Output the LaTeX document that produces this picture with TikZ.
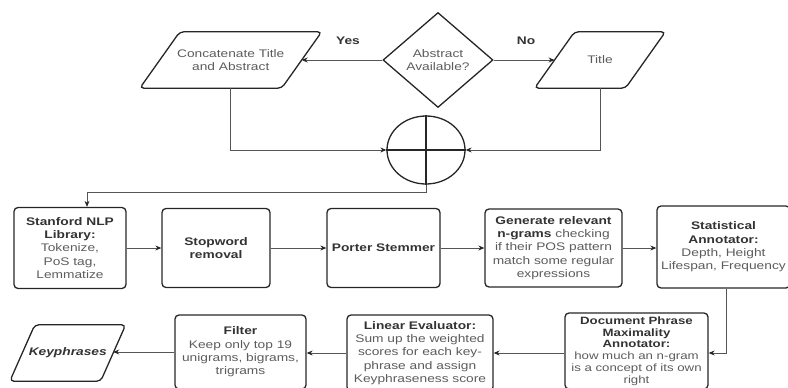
\documentclass[tikz,border=0pt]{standalone}
\usepackage{fontspec}
\setmainfont{Liberation Sans}[FakeStretch=1.25]
\usetikzlibrary{shapes.geometric,arrows.meta,calc}
\definecolor{boxc}{HTML}{262626}
\definecolor{txt}{HTML}{5C5C5C}
\definecolor{btc}{HTML}{333333}
\definecolor{linec}{HTML}{555555}
\newcommand\bt[1]{\textcolor{btc}{\textbf{#1}}}
\newcommand\drawpara[2]{\draw[boxc,line width=1.3pt,rounded corners=4pt] ([xshift=#2]#1.north west) -- ([xshift=#2]#1.north east) -- ([xshift=-#2]#1.south east) -- ([xshift=-#2]#1.south west) -- cycle;}
\begin{document}
\begin{tikzpicture}[x=1pt,y=-1pt,
  font=\fontsize{11}{13.3}\selectfont,
  box/.style={draw=boxc, line width=1.3pt, rounded corners=4pt, align=center, text=txt, inner sep=1pt},
  paranode/.style={align=center, text=txt, inner sep=0pt},
  conn/.style={draw=linec, line width=0.9pt, -{Stealth[length=6pt,width=5pt,color=boxc]}},
  lab/.style={text=btc, font=\fontsize{11}{13.3}\selectfont\bfseries}]
\useasboundingbox (0,0) rectangle (788,388);
\clip (0,0) rectangle (788,388);
% top part
\node[diamond, draw=boxc, line width=1.3pt, minimum width=110, minimum height=95, inner sep=0pt, align=center, text=txt] (diam) at (438,60) {Abstract\\Available?};
\node[paranode, minimum width=141.5, minimum height=56] (concat) at (230.75,60) {Concatenate Title\\and Abstract};
\drawpara{concat}{20pt}
\node[paranode, minimum width=90.5, minimum height=56] (title) at (600,60) {Title};
\drawpara{title}{20pt}
\node[ellipse, draw=boxc, line width=1.3pt, minimum width=78, minimum height=68, inner sep=0pt] (circ) at (426,150) {};
\draw[boxc, line width=1.3pt] (circ.north) -- (circ.south) (circ.west) -- (circ.east);
\node[lab] (yes) at (348,41) {Yes};
\node[lab] (no) at (526,41) {No};
% row 2
\node[box, minimum width=112, minimum height=81] (stan) at (70,248) {\bt{Stanford NLP}\\\bt{Library:}\\Tokenize,\\PoS tag,\\Lemmatize};
\node[box, minimum width=108, minimum height=79] (stop) at (216,248) {\bt{Stopword}\\\bt{removal}};
\node[box, minimum width=113, minimum height=79] (port) at (383.5,248) {\bt{Porter Stemmer}};
\node[box, minimum width=137, minimum height=78] (gen) at (553.5,248) {\bt{Generate relevant}\\\bt{n-grams} checking\\if their POS pattern\\match some regular\\expressions};
\node[box, minimum width=133, minimum height=82] (stat) at (723.5,247) {\bt{Statistical}\\\bt{Annotator:}\\Depth, Height\\Lifespan, Frequency};
% row 3
\node[box, minimum width=143, minimum height=76, font=\fontsize{10.6}{11.8}\selectfont] (doc) at (636.5,351) {\bt{Document Phrase}\\\bt{Maximality}\\\bt{Annotator:}\\how much an n-gram\\is a concept of its own\\right};
\node[box, minimum width=146, minimum height=76] (lin) at (420,353) {\bt{Linear Evaluator:}\\Sum up the weighted\\scores for each key-\\phrase and assign\\Keyphraseness score};
\node[box, minimum width=131, minimum height=74] (filt) at (240.5,352) {\bt{Filter}\\Keep only top 19\\unigrams, bigrams,\\trigrams};
\node[paranode, minimum width=90.5, minimum height=56, text=btc] (key) at (67.75,353) {\textbf{\textit{Keyphrases}}};
\drawpara{key}{12.5pt}
% connectors
\draw[conn] (diam.west) -- (concat.east);
\draw[conn] (diam.east) -- (title.west);
\draw[conn] (concat.south) |- (circ.west);
\draw[conn] (title.south) |- (circ.east);
\draw[conn] (circ.south) -- ($(circ.south)+(0,8)$) -| ([xshift=17pt]stan.north);
\draw[conn] (stan.east) -- (stan.east -| stop.west);
\draw[conn] (stop.east) -- (stop.east -| port.west);
\draw[conn] (port.east) -- (port.east -| gen.west);
\draw[conn] (gen.east) -- (gen.east -| stat.west);
\draw[conn] ([xshift=2.5pt]stat.south) |- (doc.east |- lin.east);
\draw[conn] (doc.west |- lin.west) -- (lin.east);
\draw[conn] (lin.west) -- (lin.west -| filt.east);
\draw[conn] (filt.west) -- (filt.west -| key.east);
\end{tikzpicture}
\end{document}
